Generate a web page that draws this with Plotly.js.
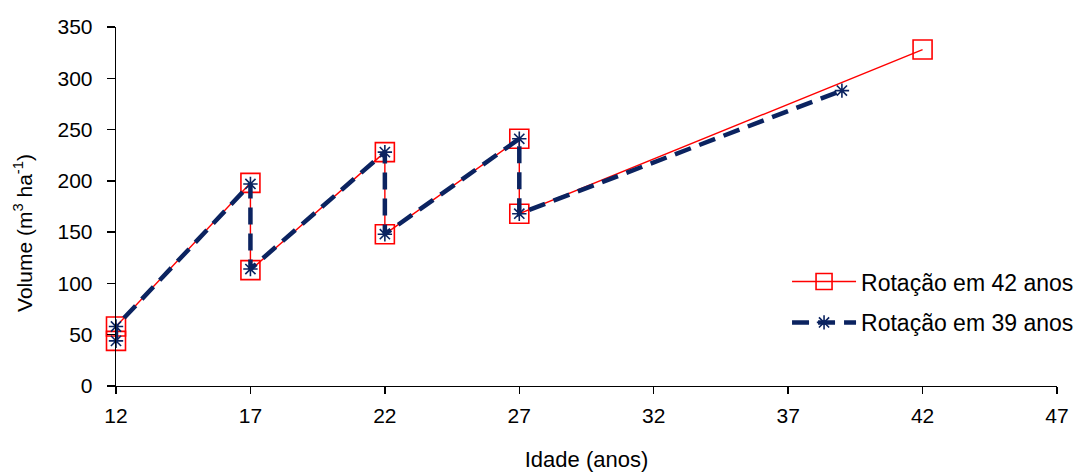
<!DOCTYPE html>
<html><head><meta charset="utf-8">
<script src="https://cdn.plot.ly/plotly-3.0.1.min.js"></script>
<style>body{margin:0}#c{width:1082px;height:472px}</style>
</head><body><div id="c"></div>
<script>
const idade42 = [12, 12, 17, 17, 22, 22, 27, 27, 42];
const volume42 = [44, 58, 198, 113, 228, 148, 241, 168, 328];
const idade39 = [12, 12, 17, 17, 22, 22, 27, 27, 39];
const volume39 = [44, 58, 197, 114, 228, 148, 241, 168, 288];
const xTicks = [12, 17, 22, 27, 32, 37, 42, 47];
const yTicks = [0, 50, 100, 150, 200, 250, 300, 350];
const names = ['Rotação em 42 anos', 'Rotação em 39 anos'];
const xTitle = 'Idade (anos)';
const yTitle = 'Volume (m<sup>3</sup> ha<sup>-1</sup>)';

const traces = [
  {x: idade42, y: volume42, name: names[0], mode: 'lines+markers', legendgroup: 'a', cliponaxis: false,
   line: {color: '#FF0000', width: 1.4},
   marker: {symbol: 'square-open', size: 19, color: '#FF0000', line: {width: 1.6}}},
  {x: idade39, y: volume39, name: names[1], mode: 'lines+markers', legendgroup: 'b', cliponaxis: false,
   line: {color: '#0B2360', width: 4.5, dash: '17px,9px'},
   marker: {symbol: 'asterisk-open', size: 12, color: '#0B2360', line: {width: 1.6, color: '#0B2360'}}}
];
const mk = (s) => ({family: 'Liberation Sans, Arial, sans-serif', size: s || 21, color: '#000'});
const layout = {
  width: 1082, height: 472,
  margin: {l: 116, r: 25, t: 27, b: 86, autoexpand: false},
  paper_bgcolor: '#fff', plot_bgcolor: '#fff',
  font: mk(),
  showlegend: true,
  legend: {xref: 'container', yref: 'container', x: 0.7274, y: 0.449, xanchor: 'left', yanchor: 'top', font: mk(23),
           traceorder: 'grouped', tracegroupgap: 8, itemwidth: 64, bgcolor: 'rgba(0,0,0,0)'},
  xaxis: {range: [12, 47], tickvals: xTicks, ticktext: xTicks.map(String), tickfont: mk(), automargin: false,
          showgrid: false, zeroline: false, showline: true, linecolor: '#000', linewidth: 1.3,
          ticks: 'outside', ticklen: 7, tickcolor: '#000', tickwidth: 1.3, ticklabelstandoff: 3,
          title: {text: xTitle, font: mk(22), standoff: 26}},
  yaxis: {range: [0, 350], tickvals: yTicks, ticktext: yTicks.map(String), tickfont: mk(), automargin: false,
          showgrid: false, zeroline: false, showline: true, linecolor: '#000', linewidth: 1.3,
          ticks: 'outside', ticklen: 8, tickcolor: '#000', tickwidth: 1.3, ticklabelstandoff: 10},
  annotations: [{text: yTitle, xref: 'paper', yref: 'paper', x: -0.099, y: 0.426,
                 xanchor: 'center', yanchor: 'middle', textangle: -90, showarrow: false, font: mk(21)}]
};
Plotly.newPlot('c', traces, layout, {displayModeBar: false, staticPlot: true});
</script></body></html>
